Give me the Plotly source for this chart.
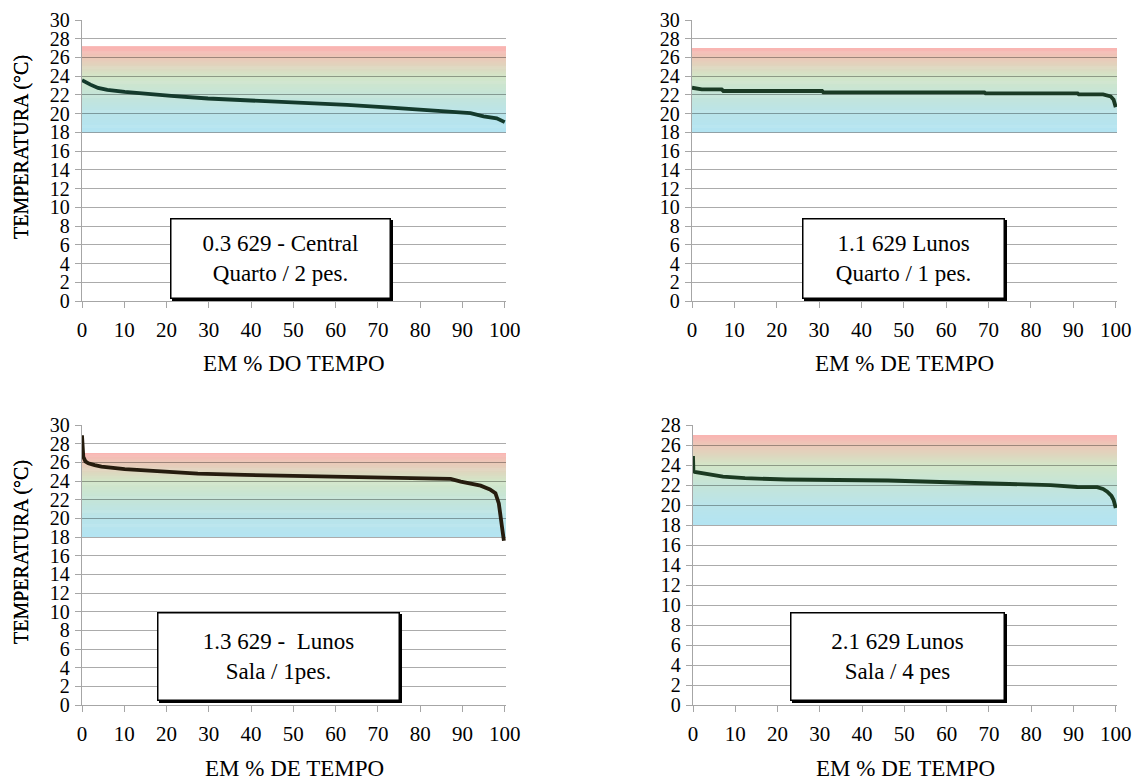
import plotly.graph_objects as go

W, H = 1143, 778

# ---------------- data ----------------
p1_x = [0, 0.8, 2.0, 3.8, 6, 10.1, 15, 21.1, 29.8, 40.8, 55.7, 62.7, 73, 84.8, 91.9, 95, 98.1, 100]
p1_y = [23.57, 23.35, 23.1, 22.75, 22.55, 22.32, 22.12, 21.9, 21.62, 21.4, 21.05, 20.93, 20.65, 20.3, 20.05, 19.72, 19.5, 19.1]

p2_x = [0, 2.3, 7.0, 7.4, 30.7, 31.0, 69.0, 69.3, 91.0, 91.3, 97.0, 98.8, 99.5, 100]
p2_y = [22.77, 22.59, 22.59, 22.42, 22.42, 22.28, 22.28, 22.16, 22.16, 22.05, 22.05, 21.85, 21.5, 20.7]

p3_x = [0, 0.15, 0.3, 0.8, 1.5, 3, 4.6, 10.1, 18.8, 27.4, 38.4, 48.7, 60.5, 66, 73.8, 87.2, 89.6, 92, 94.3, 96.5, 97.8, 98.6, 99.2, 99.5, 99.8]
p3_y = [28.9, 27.5, 26.6, 26.1, 25.9, 25.7, 25.55, 25.27, 25.02, 24.8, 24.66, 24.55, 24.48, 24.37, 24.3, 24.23, 23.94, 23.75, 23.5, 23.1, 22.7, 21.6, 20.0, 18.6, 17.6]

p4_x = [0, 0.1, 0.4, 1.3, 3.6, 7.1, 12.3, 22.1, 46.1, 56.7, 68.5, 77.5, 84.6, 90.9, 95.6, 97, 98, 99, 99.5, 100]
p4_y = [24.9, 23.4, 23.3, 23.24, 23.0, 22.84, 22.68, 22.55, 22.45, 22.32, 22.22, 22.12, 21.98, 21.8, 21.78, 21.6, 21.33, 20.9, 20.5, 19.7]

series_x = [p1_x, p2_x, p3_x, p4_x]
series_y = [p1_y, p2_y, p3_y, p4_y]
line_colors = ["#143a2c", "#1a3a24", "#261c0e", "#1b3a22"]

box_texts = ["0.3 629 - Central<br>Quarto / 2 pes.",
             "1.1 629 Lunos<br>Quarto / 1 pes.",
             "1.3 629 -\u00a0 Lunos<br>Sala / 1pes.",
             "2.1 629 Lunos<br>Sala / 4 pes"]
x_titles = ["EM % DO TEMPO", "EM % DE TEMPO", "EM % DE TEMPO", "EM % DE TEMPO"]
y_title = "TEMPERATURA (°C)"
y_max = [30, 30, 30, 28]
band_low = [18, 18, 18, 18]
band_high = [27.2, 27.0, 27.0, 27.0]

# gradient colour stops (temperature, rgb)
grad_stops = [(18.0, (179, 228, 242)), (20.0, (186, 228, 234)), (22.0, (196, 228, 216)),
              (24.0, (211, 230, 200)), (25.0, (222, 214, 190)), (26.0, (236, 200, 184)),
              (26.9, (249, 181, 178)), (28.0, (249, 181, 178))]

# ---------------- layout geometry (pixels) ----------------
plot_px = [(82, 506, 20, 301), (692, 1117, 20, 301), (82, 506, 425, 705), (693, 1117, 425, 705)]
box_px = [(280, 258, 216, 76), (903, 258, 198, 76), (278, 656, 238, 84), (897, 656, 210, 84)]


def grad_color(t):
    for (t0, c0), (t1, c1) in zip(grad_stops[:-1], grad_stops[1:]):
        if t0 <= t <= t1:
            f = (t - t0) / (t1 - t0)
            return "rgb(%d,%d,%d)" % tuple(round(a + (b - a) * f) for a, b in zip(c0, c1))
    return "rgb(%d,%d,%d)" % grad_stops[-1][1]


fig = go.Figure()
shapes = []
annotations = []
font_family = "'Liberation Serif', 'Times New Roman', serif"

for i in range(4):
    sfx = "" if i == 0 else str(i + 1)
    xa, ya = "x" + sfx, "y" + sfx
    x0, x1, y0, y1 = plot_px[i]
    fig.add_trace(go.Scatter(x=series_x[i], y=series_y[i], mode="lines",
                             line=dict(color=line_colors[i], width=3.8),
                             xaxis=xa, yaxis=ya, showlegend=False, hoverinfo="skip"))
    dom_x = [x0 / W, x1 / W]
    dom_y = [1 - y1 / H, 1 - y0 / H]
    fig.layout["xaxis" + sfx] = dict(domain=dom_x, anchor=ya, range=[0, 100.3], dtick=10, tick0=0,
                                     showgrid=False, showline=True, linecolor="#a6a6a6", linewidth=1.3,
                                     ticks="outside", ticklen=6, tickcolor="#a6a6a6", tickwidth=1.3,
                                     tickfont=dict(family=font_family, size=21, color="black"),
                                     ticklabelstandoff=4, zeroline=False, fixedrange=True,
                                     automargin=False)
    fig.layout["yaxis" + sfx] = dict(domain=dom_y, anchor=xa, range=[0, y_max[i]], dtick=2, tick0=0,
                                     showgrid=True, gridcolor="rgba(0,0,0,0.33)", gridwidth=1.2,
                                     showline=True, linecolor="#a6a6a6", linewidth=1.3,
                                     ticks="outside", ticklen=6, tickcolor="#a6a6a6", tickwidth=1.3,
                                     tickfont=dict(family=font_family, size=20, color="black"),
                                     ticklabelstandoff=1,
                                     zeroline=False, fixedrange=True, automargin=False)
    # gradient band
    step = 0.1
    n = int(round((band_high[i] - band_low[i]) / step))
    for k in range(n):
        lo = band_low[i] + k * step
        hi = min(lo + step * 1.6, band_high[i])
        shapes.append(dict(type="rect", xref=xa, yref=ya, x0=0, x1=100.3, y0=lo, y1=hi,
                           fillcolor=grad_color(lo + step / 2), line=dict(width=0), layer="below"))
    # axis titles
    annotations.append(dict(text=x_titles[i], xref="paper", yref="paper",
                            x=(x0 + x1) / 2 / W, y=1 - (y1 + 63) / H, showarrow=False,
                            xanchor="center", yanchor="middle",
                            font=dict(family=font_family, size=23, color="black")))
    annotations.append(dict(text=y_title, xref="paper", yref="paper", textangle=-90,
                            x=21 / W, y=1 - (y0 + 127) / H, showarrow=False,
                            xanchor="center", yanchor="middle",
                            font=dict(family=font_family, size=20, color="black")))
    # text box with shadow
    cx, cy, bw, bh = box_px[i]
    for shadow in (True, False):
        annotations.append(dict(text=box_texts[i], xref="paper", yref="paper",
                                x=cx / W, y=1 - cy / H, showarrow=False,
                                xanchor="center", yanchor="middle",
                                width=bw, height=bh, align="center", valign="middle",
                                xshift=2 if shadow else 0, yshift=-2 if shadow else 0,
                                bgcolor="black" if shadow else "white",
                                bordercolor="black", borderwidth=1.5, borderpad=1,
                                font=dict(family=font_family, size=23, color="black")))

fig.update_layout(width=W, height=H, margin=dict(l=0, r=0, t=0, b=0, autoexpand=False),
                  paper_bgcolor="white", plot_bgcolor="white",
                  shapes=shapes, annotations=annotations, showlegend=False)

fig.write_html("out.html", config=dict(displayModeBar=False),
               post_script="document.body.style.margin='0';document.body.style.overflow='hidden';")
